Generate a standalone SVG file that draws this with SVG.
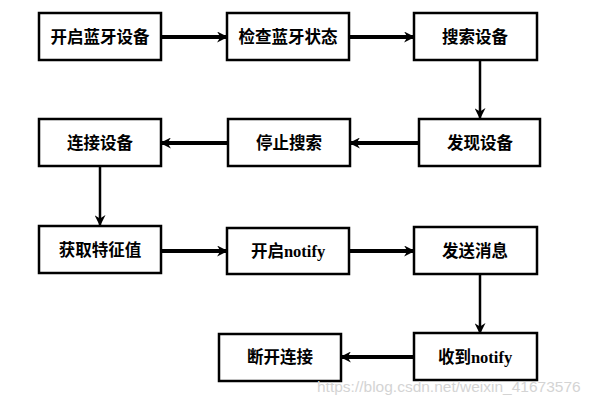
<svg xmlns="http://www.w3.org/2000/svg" width="597" height="404" viewBox="0 0 597 404">
<style>
.box rect{fill:#fff;stroke:#000;stroke-width:2.5}
.box text{font-family:"Liberation Serif","Noto Sans CJK SC",serif;font-size:16.5px;font-weight:bold;fill:#000;text-anchor:middle;dominant-baseline:central}
.c{stroke:#000;fill:none}
.t{stroke-width:4}
.n{stroke-width:2.5}
.wm{font-family:"Liberation Sans",Arial,sans-serif;font-size:15.5px;fill:#d4d4d4}
</style>
<defs>
<marker id="ah" viewBox="0 0 10 10" refX="9" refY="5" markerWidth="11" markerHeight="11" markerUnits="userSpaceOnUse" orient="auto">
<path d="M0,0 L10,5 L0,10 L3,5 z" fill="#000"/>
</marker>
</defs>
<rect width="597" height="404" fill="#fff"/>
<g id="connectors">
<line class="c t" x1="161" y1="37" x2="227" y2="37" marker-end="url(#ah)"/>
<line class="c t" x1="349" y1="37" x2="414" y2="37" marker-end="url(#ah)"/>
<line class="c n" x1="480" y1="60" x2="480" y2="118" marker-end="url(#ah)"/>
<line class="c t" x1="419" y1="143" x2="350" y2="143" marker-end="url(#ah)"/>
<line class="c t" x1="228" y1="143" x2="161" y2="143" marker-end="url(#ah)"/>
<line class="c n" x1="100" y1="166" x2="100" y2="225" marker-end="url(#ah)"/>
<line class="c t" x1="161" y1="251" x2="227" y2="251" marker-end="url(#ah)"/>
<line class="c t" x1="349" y1="251" x2="414" y2="251" marker-end="url(#ah)"/>
<line class="c n" x1="480" y1="274" x2="480" y2="333" marker-end="url(#ah)"/>
<line class="c t" x1="414" y1="357" x2="341" y2="357" marker-end="url(#ah)"/>
</g>
<g id="n1" class="box"><rect x="39" y="13" width="122" height="47"/><text x="100" y="37">开启蓝牙设备</text></g>
<g id="n2" class="box"><rect x="227" y="13" width="122" height="47"/><text x="288" y="37">检查蓝牙状态</text></g>
<g id="n3" class="box"><rect x="414" y="13" width="123" height="47"/><text x="475" y="37">搜索设备</text></g>
<g id="n4" class="box"><rect x="419" y="119" width="121" height="47"/><text x="480" y="143">发现设备</text></g>
<g id="n5" class="box"><rect x="228" y="119" width="122" height="47"/><text x="289" y="143">停止搜索</text></g>
<g id="n6" class="box"><rect x="39" y="119" width="122" height="47"/><text x="100" y="143">连接设备</text></g>
<g id="n7" class="box"><rect x="39" y="226" width="122" height="47"/><text x="100" y="250">获取特征值</text></g>
<g id="n8" class="box"><rect x="227" y="228" width="122" height="46"/><text x="288" y="251">开启notify</text></g>
<g id="n9" class="box"><rect x="414" y="227" width="123" height="47"/><text x="475" y="251">发送消息</text></g>
<g id="n10" class="box"><rect x="219" y="334" width="122" height="47"/><text x="280" y="357">断开连接</text></g>
<g id="n11" class="box"><rect x="414" y="333" width="123" height="47"/><text x="475" y="357">收到notify</text></g>
<text class="wm" x="317" y="392">https://blog.csdn.net/weixin_41673576</text>
</svg>
